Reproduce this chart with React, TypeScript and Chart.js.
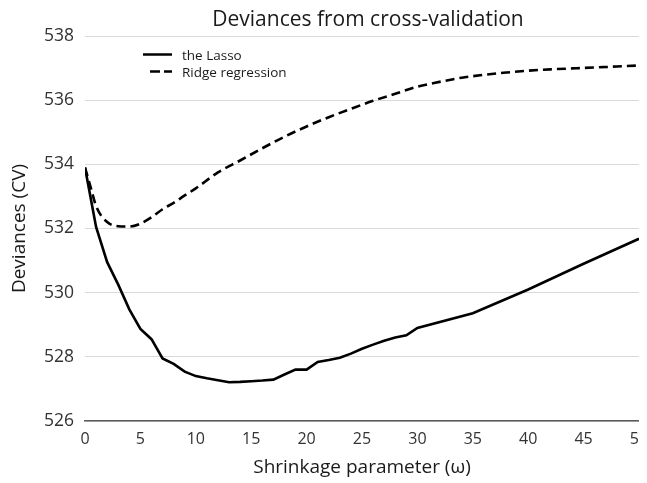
import React, { useEffect, useRef } from "react";
import { Chart, registerables } from "chart.js";

Chart.register(...registerables);

const chartTitle = "Deviances from cross-validation";
const xTitle = "Shrinkage parameter (\u03c9)";
const yTitle = "Deviances (CV)";
const seriesNames = ["the Lasso", "Ridge regression"];

const xTicks = [0, 5, 10, 15, 20, 25, 30, 35, 40, 45, 50];
const yTicks = [526, 528, 530, 532, 534, 536, 538];

const omegaLasso = [0, 1, 2, 3, 4, 5, 6, 7, 8, 9, 10, 11, 12, 13, 14, 15, 16, 17, 18, 19, 20, 21, 22, 23, 24, 25, 26, 27, 28, 29, 30, 35, 40, 45, 50];
const devLasso = [533.9, 532.05, 530.95, 530.25, 529.48, 528.87, 528.55, 527.95, 527.78, 527.54, 527.4, 527.33, 527.27, 527.21, 527.22, 527.24, 527.26, 527.29, 527.45, 527.6, 527.6, 527.84, 527.9, 527.97, 528.1, 528.25, 528.38, 528.5, 528.6, 528.67, 528.9, 529.36, 530.1, 530.9, 531.68];

const omegaRidge = [0, 0.5, 1, 2, 3, 4, 5, 6, 7, 8, 9, 10, 12, 14, 16, 18, 20, 22, 24, 26, 28, 30, 32, 34, 36, 38, 40, 42, 44, 46, 48, 50];
const devRidge = [533.9, 533.3, 532.7, 532.2, 532.07, 532.06, 532.15, 532.35, 532.6, 532.8, 533.03, 533.25, 533.75, 534.12, 534.5, 534.86, 535.18, 535.47, 535.73, 535.98, 536.2, 536.42, 536.57, 536.7, 536.79, 536.86, 536.92, 536.96, 536.99, 537.02, 537.05, 537.08];

const FONT = "'Open Sans', 'DejaVu Sans', sans-serif";

const overlayPlugin = {
  id: "overlay",
  afterDraw(chart: any) {
    const { ctx, chartArea } = chart;
    ctx.save();
    // title
    ctx.fillStyle = "#1a1a1a";
    ctx.font = `21px ${FONT}`;
    ctx.textAlign = "center";
    ctx.textBaseline = "alphabetic";
    ctx.fillText(chartTitle, (chartArea.left + chartArea.right) / 2 + 6, 17.5);
    // legend
    const lx0 = chartArea.left + 58;
    const lx1 = chartArea.left + 87;
    const rows = [chartArea.top + 18.5, chartArea.top + 35.5];
    ctx.strokeStyle = "#000";
    ctx.lineWidth = 2.5;
    ctx.lineCap = "butt";
    rows.forEach((y, i) => {
      ctx.beginPath();
      ctx.setLineDash(i === 0 ? [] : [10, 4]);
      ctx.moveTo(i === 0 ? lx0 : lx0 + 7, y);
      ctx.lineTo(lx1, y);
      ctx.stroke();
    });
    ctx.setLineDash([]);
    ctx.fillStyle = "#1a1a1a";
    ctx.font = `13.5px ${FONT}`;
    ctx.textAlign = "left";
    ctx.fillText(seriesNames[0], chartArea.left + 97, chartArea.top + 23.5);
    ctx.fillText(seriesNames[1], chartArea.left + 97, chartArea.top + 40.5);
    ctx.restore();
  },
};

export default function App() {
  const canvasRef = useRef<HTMLCanvasElement | null>(null);

  useEffect(() => {
    document.body.style.overflow = "hidden";
    const canvas = canvasRef.current;
    if (!canvas) return;
    const chart = new Chart(canvas, {
      type: "line",
      data: {
        datasets: [
          {
            label: seriesNames[0],
            data: omegaLasso.map((x, i) => ({ x, y: devLasso[i] })),
            borderColor: "#000",
            borderWidth: 2.6,
            pointRadius: 0,
            tension: 0,
            fill: false,
          },
          {
            label: seriesNames[1],
            data: omegaRidge.map((x, i) => ({ x, y: devRidge[i] })),
            borderColor: "#000",
            borderWidth: 2.6,
            borderDash: [9, 5],
            pointRadius: 0,
            cubicInterpolationMode: "monotone",
            fill: false,
          },
        ],
      },
      options: {
        responsive: false,
        animation: false,
        layout: { padding: { top: 28, left: 0, right: 0, bottom: 0 } },
        plugins: {
          legend: { display: false },
          title: { display: false },
          tooltip: { enabled: false },
        },
        scales: {
          x: {
            type: "linear",
            min: 0,
            max: 50,
            afterBuildTicks: (scale: any) => {
              scale.ticks = xTicks.map((v) => ({ value: v }));
            },
            afterFit: (scale: any) => {
              scale.height = 62;
              scale.paddingRight = 0;
              scale.paddingLeft = 0;
            },
            grid: { display: false, drawTicks: false },
            border: { display: true, color: "#5a5a5a", width: 1.5 },
            ticks: {
              color: "#333",
              font: { family: FONT, size: 16 },
              padding: 9,
              maxRotation: 0,
            },
            title: {
              display: true,
              text: xTitle,
              color: "#1a1a1a",
              font: { family: FONT, size: 19 },
              padding: { top: 0, bottom: 4 },
            },
          },
          y: {
            type: "linear",
            min: 526,
            max: 538,
            afterBuildTicks: (scale: any) => {
              scale.ticks = yTicks.map((v) => ({ value: v }));
            },
            afterFit: (scale: any) => {
              scale.width = 77;
            },
            grid: { color: "#d9d9d9", lineWidth: 1, drawTicks: false },
            border: { display: false },
            ticks: {
              color: "#333",
              font: { family: FONT, size: 17.5 },
              padding: 11,
            },
            title: {
              display: true,
              text: yTitle,
              color: "#1a1a1a",
              font: { family: FONT, size: 19 },
              padding: { top: 0, bottom: 0 },
            },
          },
        },
      },
      plugins: [overlayPlugin],
    } as any);
    return () => chart.destroy();
  }, []);

  return (
    <div style={{ width: 631, height: 475 }}>
      <canvas ref={canvasRef} width={631} height={475} style={{ display: "block" }} />
    </div>
  );
}
